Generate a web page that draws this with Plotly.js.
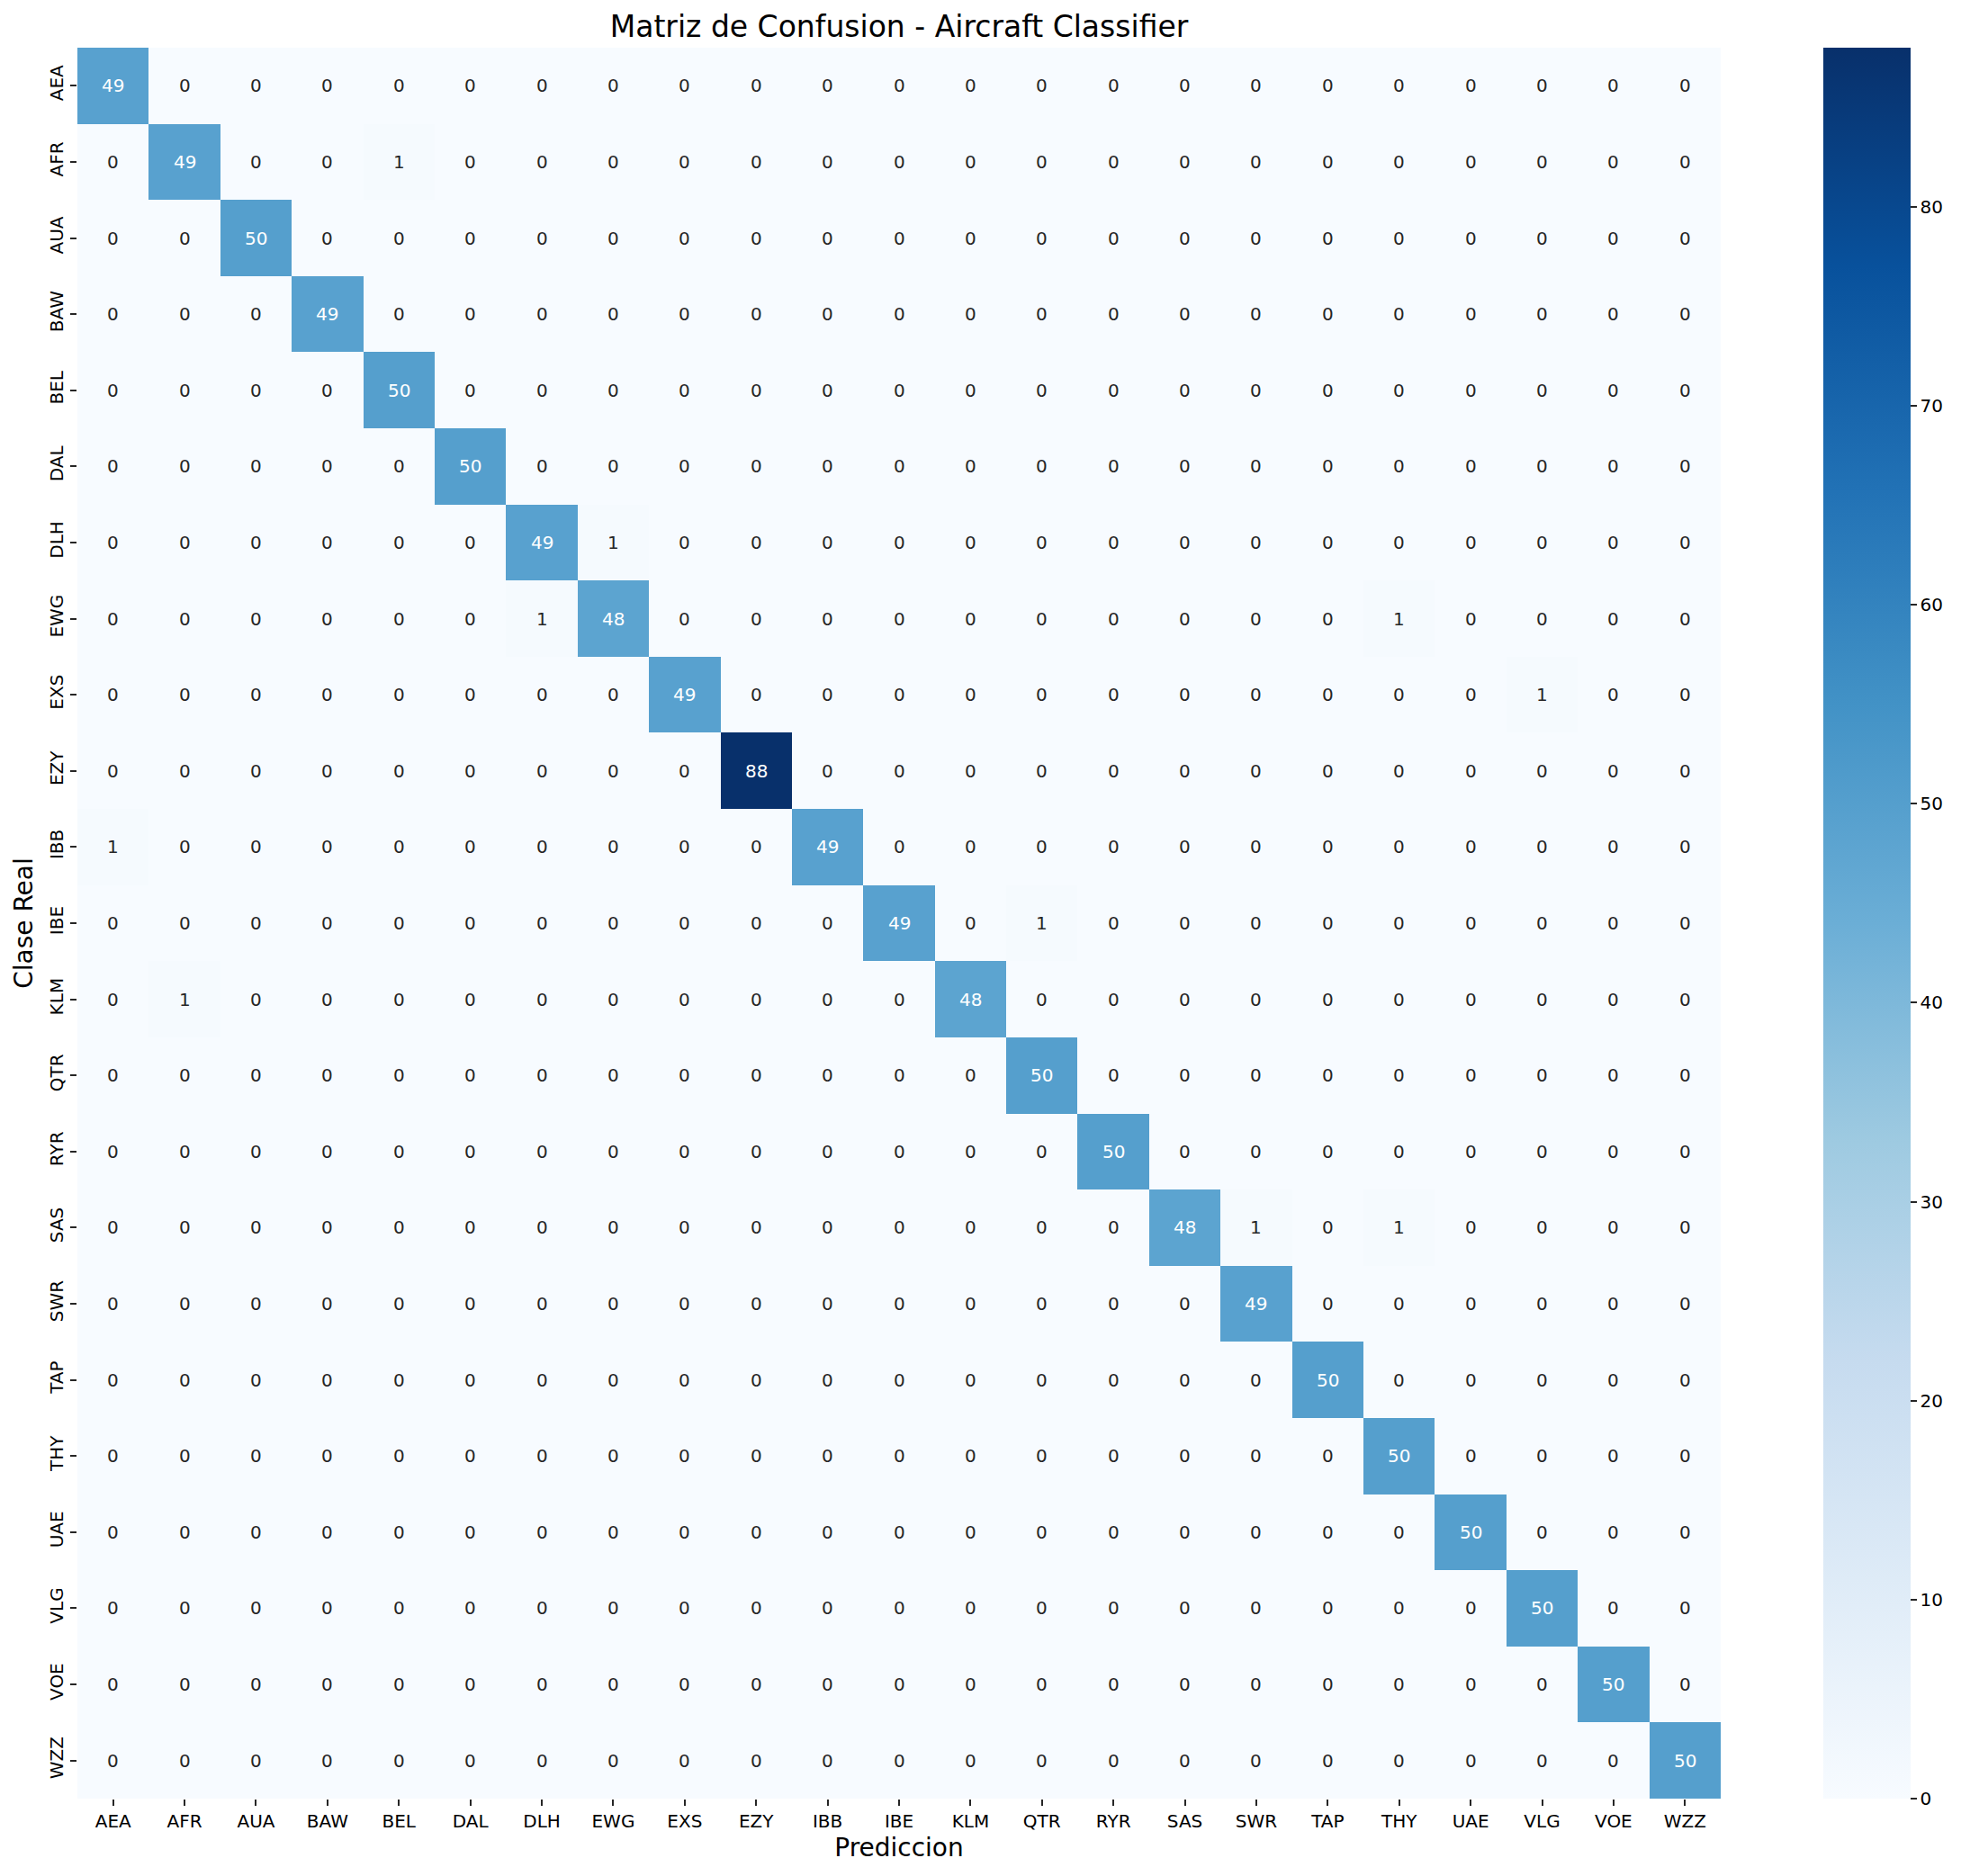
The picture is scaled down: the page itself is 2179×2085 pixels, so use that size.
<!DOCTYPE html>
<html>
<head>
<meta charset="utf-8">
<script src="https://cdn.plot.ly/plotly-3.0.1.min.js"></script>
<style>html,body{margin:0;padding:0;background:#fff;}#chart{width:2179px;height:2085px;}</style>
</head>
<body>
<div id="chart"></div>
<script>
// Class labels (same order for predicted columns and real rows)
const classes = ["AEA","AFR","AUA","BAW","BEL","DAL","DLH","EWG","EXS","EZY","IBB","IBE","KLM","QTR","RYR","SAS","SWR","TAP","THY","UAE","VLG","VOE","WZZ"];

// Confusion matrix rows: real class (row) vs predicted class (column)
const confusion = [
  [49,0,0,0,0,0,0,0,0,0,0,0,0,0,0,0,0,0,0,0,0,0,0], // AEA
  [0,49,0,0,1,0,0,0,0,0,0,0,0,0,0,0,0,0,0,0,0,0,0], // AFR
  [0,0,50,0,0,0,0,0,0,0,0,0,0,0,0,0,0,0,0,0,0,0,0], // AUA
  [0,0,0,49,0,0,0,0,0,0,0,0,0,0,0,0,0,0,0,0,0,0,0], // BAW
  [0,0,0,0,50,0,0,0,0,0,0,0,0,0,0,0,0,0,0,0,0,0,0], // BEL
  [0,0,0,0,0,50,0,0,0,0,0,0,0,0,0,0,0,0,0,0,0,0,0], // DAL
  [0,0,0,0,0,0,49,1,0,0,0,0,0,0,0,0,0,0,0,0,0,0,0], // DLH
  [0,0,0,0,0,0,1,48,0,0,0,0,0,0,0,0,0,0,1,0,0,0,0], // EWG
  [0,0,0,0,0,0,0,0,49,0,0,0,0,0,0,0,0,0,0,0,1,0,0], // EXS
  [0,0,0,0,0,0,0,0,0,88,0,0,0,0,0,0,0,0,0,0,0,0,0], // EZY
  [1,0,0,0,0,0,0,0,0,0,49,0,0,0,0,0,0,0,0,0,0,0,0], // IBB
  [0,0,0,0,0,0,0,0,0,0,0,49,0,1,0,0,0,0,0,0,0,0,0], // IBE
  [0,1,0,0,0,0,0,0,0,0,0,0,48,0,0,0,0,0,0,0,0,0,0], // KLM
  [0,0,0,0,0,0,0,0,0,0,0,0,0,50,0,0,0,0,0,0,0,0,0], // QTR
  [0,0,0,0,0,0,0,0,0,0,0,0,0,0,50,0,0,0,0,0,0,0,0], // RYR
  [0,0,0,0,0,0,0,0,0,0,0,0,0,0,0,48,1,0,1,0,0,0,0], // SAS
  [0,0,0,0,0,0,0,0,0,0,0,0,0,0,0,0,49,0,0,0,0,0,0], // SWR
  [0,0,0,0,0,0,0,0,0,0,0,0,0,0,0,0,0,50,0,0,0,0,0], // TAP
  [0,0,0,0,0,0,0,0,0,0,0,0,0,0,0,0,0,0,50,0,0,0,0], // THY
  [0,0,0,0,0,0,0,0,0,0,0,0,0,0,0,0,0,0,0,50,0,0,0], // UAE
  [0,0,0,0,0,0,0,0,0,0,0,0,0,0,0,0,0,0,0,0,50,0,0], // VLG
  [0,0,0,0,0,0,0,0,0,0,0,0,0,0,0,0,0,0,0,0,0,50,0], // VOE
  [0,0,0,0,0,0,0,0,0,0,0,0,0,0,0,0,0,0,0,0,0,0,50]  // WZZ
];

const colorbarTicks = [0,10,20,30,40,50,60,70,80];

const blues = [
  [0.0,'#f7fbff'],[0.125,'#deebf7'],[0.25,'#c6dbef'],[0.375,'#9ecae1'],
  [0.5,'#6baed6'],[0.625,'#4292c6'],[0.75,'#2171b5'],[0.875,'#08519c'],[1.0,'#08306b']
];

const zmin = 0;
const zmax = Math.max(...confusion.flat());

const annotations = [];
confusion.forEach((row, i) => {
  row.forEach((v, j) => {
    annotations.push({
      x: classes[j], y: classes[i], xref: 'x', yref: 'y',
      text: String(v), showarrow: false,
      font: {family: 'DejaVu Sans', size: 20, color: (v - zmin) / (zmax - zmin) > 0.4 ? '#ffffff' : '#262626'}
    });
  });
});

const trace = {
  type: 'heatmap',
  x: classes, y: classes, z: confusion,
  zmin: zmin, zmax: zmax,
  colorscale: blues,
  xgap: 0, ygap: 0,
  hoverinfo: 'skip',
  colorbar: {
    x: 1.0624, xanchor: 'left', xref: 'paper', xpad: 0,
    y: 0.5, yanchor: 'middle', ypad: 0, len: 1, lenmode: 'fraction',
    thickness: 97, thicknessmode: 'pixels',
    outlinewidth: 0,
    ticks: 'outside', ticklen: 7, tickwidth: 2, tickcolor: '#262626',
    tickvals: colorbarTicks,
    tickfont: {family: 'DejaVu Sans', size: 20, color: '#000'}
  }
};

const layout = {
  width: 2179, height: 2085,
  margin: {l: 86, r: 267, t: 53, b: 86, pad: 0},
  paper_bgcolor: '#fff', plot_bgcolor: '#fff',
  font: {family: 'DejaVu Sans', color: '#000'},
  title: {text: 'Matriz de Confusion - Aircraft Classifier', font: {family: 'DejaVu Sans', size: 33, color: '#000'}, x: 0.5, xref: 'paper', xanchor: 'center', y: 1 - 29/2085, yanchor: 'middle'},
  xaxis: {
    type: 'category', categoryorder: 'array', categoryarray: classes,
    showgrid: false, zeroline: false, showline: false,
    ticks: 'outside', ticklen: 7, tickwidth: 2, tickcolor: '#262626',
    tickfont: {family: 'DejaVu Sans', size: 20, color: '#000'},
    title: {text: 'Prediccion', font: {family: 'DejaVu Sans', size: 28, color: '#000'}, standoff: 8}
  },
  yaxis: {
    type: 'category', categoryorder: 'array', categoryarray: classes,
    autorange: 'reversed',
    showgrid: false, zeroline: false, showline: false,
    ticks: 'outside', ticklen: 7, tickwidth: 2, tickcolor: '#262626',
    tickangle: -90,
    tickfont: {family: 'DejaVu Sans', size: 20, color: '#000'},
    title: {text: 'Clase Real', font: {family: 'DejaVu Sans', size: 28, color: '#000'}, standoff: 6}
  },
  annotations: annotations
};

Plotly.newPlot('chart', [trace], layout, {staticPlot: true, displayModeBar: false});
</script>
</body>
</html>
